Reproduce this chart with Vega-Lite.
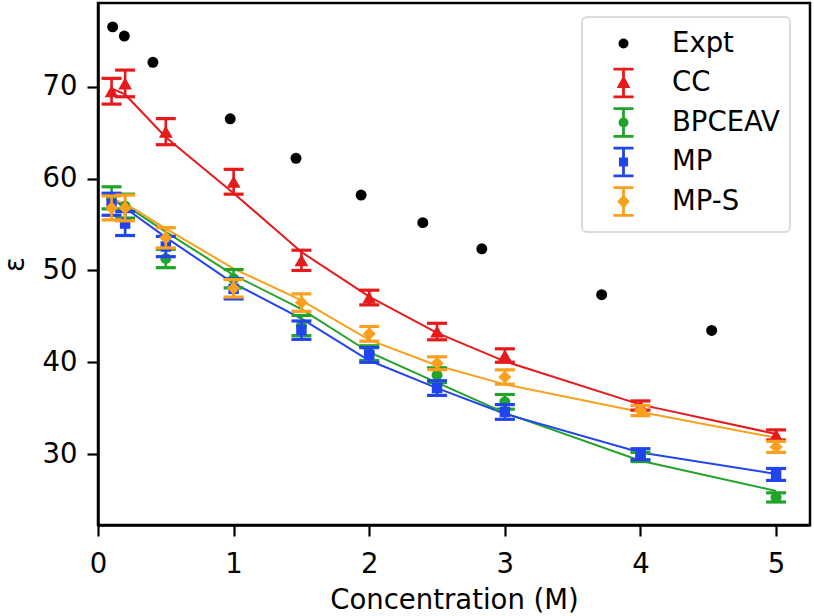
{
  "$schema": "https://vega.github.io/schema/vega-lite/v6.json",
  "width": 712,
  "height": 522,
  "autosize": {"type": "none"},
  "padding": {"left": 98, "top": 3, "right": 4, "bottom": 91},
  "background": "white",
  "config": {
    "font": "DejaVu Sans",
    "view": {"stroke": "black", "strokeWidth": 2.5},
    "axis": {
      "grid": false,
      "domainColor": "black",
      "domainWidth": 2.5,
      "tickColor": "black",
      "tickWidth": 2.2,
      "tickSize": 11,
      "labelFont": "DejaVu Sans",
      "labelFontSize": 27.5,
      "labelColor": "black",
      "labelFlush": false,
      "labelOverlap": false,
      "titleFont": "DejaVu Sans",
      "titleFontSize": 27.5,
      "titleFontWeight": "normal",
      "titleColor": "black"
    }
  },
  "data": {
    "values": [
      {"series": "Expt", "x": 0.108, "y": 76.5},
      {"series": "Expt", "x": 0.194, "y": 75.5},
      {"series": "Expt", "x": 0.405, "y": 72.65},
      {"series": "Expt", "x": 0.975, "y": 66.5},
      {"series": "Expt", "x": 1.46, "y": 62.2},
      {"series": "Expt", "x": 1.94, "y": 58.2},
      {"series": "Expt", "x": 2.395, "y": 55.2},
      {"series": "Expt", "x": 2.83, "y": 52.35},
      {"series": "Expt", "x": 3.714, "y": 47.36},
      {"series": "Expt", "x": 4.525, "y": 43.47},

      {"series": "CC", "x": 0.1, "y": 69.5, "err": 1.4, "fit": 69.8},
      {"series": "CC", "x": 0.2, "y": 70.35, "err": 1.45, "fit": 69.15},
      {"series": "CC", "x": 0.5, "y": 65.1, "err": 1.42, "fit": 64.5},
      {"series": "CC", "x": 1, "y": 59.65, "err": 1.35, "fit": 58.4},
      {"series": "CC", "x": 1.5, "y": 51.1, "err": 1.1, "fit": 52.0},
      {"series": "CC", "x": 2, "y": 47.05, "err": 0.8, "fit": 47.15},
      {"series": "CC", "x": 2.5, "y": 43.35, "err": 0.9, "fit": 43.2},
      {"series": "CC", "x": 3, "y": 40.74, "err": 0.73, "fit": 40.1},
      {"series": "CC", "x": 4, "y": 35.3, "err": 0.5, "fit": 35.4},
      {"series": "CC", "x": 5, "y": 32.1, "err": 0.55, "fit": 32.2},

      {"series": "BPCEAV", "x": 0.1, "y": 57.9, "err": 1.2, "fit": 57.8},
      {"series": "BPCEAV", "x": 0.2, "y": 57.0, "err": 1.3, "fit": 57.1},
      {"series": "BPCEAV", "x": 0.5, "y": 51.3, "err": 1.0, "fit": 54.2},
      {"series": "BPCEAV", "x": 1, "y": 49.1, "err": 1.0, "fit": 49.5},
      {"series": "BPCEAV", "x": 1.5, "y": 44.0, "err": 1.1, "fit": 45.8},
      {"series": "BPCEAV", "x": 2, "y": 41.0, "err": 0.8, "fit": 41.1},
      {"series": "BPCEAV", "x": 2.5, "y": 38.6, "err": 0.8, "fit": 37.8},
      {"series": "BPCEAV", "x": 3, "y": 35.7, "err": 0.8, "fit": 34.5},
      {"series": "BPCEAV", "x": 4, "y": 29.7, "err": 0.5, "fit": 29.3},
      {"series": "BPCEAV", "x": 5, "y": 25.3, "err": 0.5, "fit": 26.0},

      {"series": "MP", "x": 0.1, "y": 57.2, "err": 1.2, "fit": 57.9},
      {"series": "MP", "x": 0.2, "y": 55.1, "err": 1.3, "fit": 56.8},
      {"series": "MP", "x": 0.5, "y": 52.6, "err": 1.1, "fit": 53.6},
      {"series": "MP", "x": 1, "y": 48.0, "err": 1.1, "fit": 48.6},
      {"series": "MP", "x": 1.5, "y": 43.5, "err": 1.0, "fit": 44.75},
      {"series": "MP", "x": 2, "y": 40.8, "err": 0.8, "fit": 40.2},
      {"series": "MP", "x": 2.5, "y": 37.2, "err": 0.8, "fit": 37.2},
      {"series": "MP", "x": 3, "y": 34.6, "err": 0.8, "fit": 34.4},
      {"series": "MP", "x": 4, "y": 30.0, "err": 0.6, "fit": 30.2},
      {"series": "MP", "x": 5, "y": 27.8, "err": 0.65, "fit": 27.85},

      {"series": "MP-S", "x": 0.1, "y": 56.8, "err": 1.3, "fit": 57.7},
      {"series": "MP-S", "x": 0.2, "y": 56.8, "err": 1.4, "fit": 57.3},
      {"series": "MP-S", "x": 0.5, "y": 53.55, "err": 1.1, "fit": 54.55},
      {"series": "MP-S", "x": 1, "y": 48.05, "err": 0.95, "fit": 50.2},
      {"series": "MP-S", "x": 1.5, "y": 46.5, "err": 0.95, "fit": 46.75},
      {"series": "MP-S", "x": 2, "y": 43.1, "err": 0.8, "fit": 42.45},
      {"series": "MP-S", "x": 2.5, "y": 39.9, "err": 0.7, "fit": 39.65},
      {"series": "MP-S", "x": 3, "y": 38.4, "err": 0.78, "fit": 37.6},
      {"series": "MP-S", "x": 4, "y": 34.75, "err": 0.55, "fit": 34.6},
      {"series": "MP-S", "x": 5, "y": 30.8, "err": 0.6, "fit": 31.8}
    ]
  },
  "encoding": {
    "x": {
      "field": "x",
      "type": "quantitative",
      "scale": {"domain": [0, 5.25], "nice": false, "zero": false},
      "axis": {"values": [0, 1, 2, 3, 4, 5], "format": "d", "title": "Concentration (M)", "labelPadding": 14, "titlePadding": 9}
    }
  },
  "layer": [
    {
      "mark": {"type": "point", "filled": true, "opacity": 0},
      "encoding": {
        "y": {
          "field": "y",
          "type": "quantitative",
          "title": "ε",
          "scale": {"domain": [22.3, 79.1], "nice": false, "zero": false},
          "axis": {"values": [30, 40, 50, 60, 70], "title": "ε", "labelPadding": 10, "titlePadding": 13}
        },
        "shape": {
          "field": "series",
          "type": "nominal",
          "scale": {
            "domain": ["Expt", "CC", "BPCEAV", "MP", "MP-S"],
            "range": [
              "M0,-0.93L0,-0.93M0,0.93L0,0.93M-0.24,0A0.24,0.24,0,1,0,0.24,0A0.24,0.24,0,1,0,-0.24,0Z",
              "M-0.67,-0.93H0.67M0,-0.93V0.93M-0.67,0.93H0.67M0,-0.32L0.3,0.24L-0.3,0.24Z",
              "M-0.67,-0.93H0.67M0,-0.93V0.93M-0.67,0.93H0.67M-0.24,0A0.24,0.24,0,1,0,0.24,0A0.24,0.24,0,1,0,-0.24,0Z",
              "M-0.67,-0.93H0.67M0,-0.93V0.93M-0.67,0.93H0.67M-0.21,-0.21H0.21V0.21H-0.21Z",
              "M-0.67,-0.93H0.67M0,-0.93V0.93M-0.67,0.93H0.67M0,-0.33L0.29,0L0,0.33L-0.29,0Z"
            ]
          },
          "legend": {
            "orient": "none", "legendX": 484, "legendY": 14, "title": null,
            "symbolSize": 900, "symbolStrokeWidth": 2.8, "symbolOpacity": 1,
            "labelFont": "DejaVu Sans", "labelFontSize": 27.5, "labelColor": "black",
            "padding": 10, "rowPadding": -1.5, "symbolOffset": 15, "labelOffset": 32,
            "fillColor": "white", "strokeColor": "#d9dcde", "cornerRadius": 5,
            "encode": {
              "symbols": {"update": {"stroke": {"scale": "color", "field": "value"}, "strokeWidth": {"value": 2.8}}},
              "legend": {"update": {"strokeWidth": {"value": 2}}}
            }
          }
        },
        "color": {
          "field": "series",
          "type": "nominal",
          "scale": {"domain": ["Expt", "CC", "BPCEAV", "MP", "MP-S"], "range": ["black", "#e6191b", "#22a32a", "#2244ee", "#fa9f1e"]},
          "legend": {
            "orient": "none", "legendX": 484, "legendY": 14, "title": null,
            "symbolSize": 900, "symbolStrokeWidth": 2.8, "symbolOpacity": 1,
            "labelFont": "DejaVu Sans", "labelFontSize": 27.5, "labelColor": "black",
            "padding": 10, "rowPadding": -1.5, "symbolOffset": 15, "labelOffset": 32,
            "fillColor": "white", "strokeColor": "#d9dcde", "cornerRadius": 5,
            "encode": {
              "symbols": {"update": {"stroke": {"scale": "color", "field": "value"}, "strokeWidth": {"value": 2.8}}},
              "legend": {"update": {"strokeWidth": {"value": 2}}}
            }
          }
        }
      }
    },
    {
      "transform": [{"filter": "isValid(datum.fit)"}],
      "mark": {"type": "line", "strokeWidth": 2},
      "encoding": {
        "y": {"field": "fit", "type": "quantitative", "title": "ε"},
        "stroke": {
          "field": "series",
          "type": "nominal",
          "scale": {"domain": ["CC", "BPCEAV", "MP", "MP-S"], "range": ["#e6191b", "#22a32a", "#2244ee", "#fa9f1e"]},
          "legend": null
        }
      }
    },
    {
      "transform": [{"filter": "datum.series == 'Expt'"}],
      "mark": {"type": "point", "filled": true, "opacity": 1, "shape": "circle", "size": 120, "color": "black"},
      "encoding": {"y": {"field": "y", "type": "quantitative", "title": "ε"}}
    },
    {
      "transform": [{"filter": "datum.series == 'CC'"}],
      "mark": {"type": "errorbar", "color": "#e6191b", "size": 20, "ticks": {"opacity": 1, "thickness": 3.2}, "rule": {"opacity": 1, "strokeWidth": 2.6}},
      "encoding": {"y": {"field": "y", "type": "quantitative", "title": "ε"}, "yError": {"field": "err"}}
    },
    {
      "transform": [{"filter": "datum.series == 'CC'"}],
      "mark": {"type": "point", "filled": true, "opacity": 1, "shape": "triangle-up", "size": 190, "color": "#e6191b"},
      "encoding": {"y": {"field": "y", "type": "quantitative", "title": "ε"}}
    },
    {
      "transform": [{"filter": "datum.series == 'BPCEAV'"}],
      "mark": {"type": "errorbar", "color": "#22a32a", "size": 20, "ticks": {"opacity": 1, "thickness": 3.2}, "rule": {"opacity": 1, "strokeWidth": 2.6}},
      "encoding": {"y": {"field": "y", "type": "quantitative", "title": "ε"}, "yError": {"field": "err"}}
    },
    {
      "transform": [{"filter": "datum.series == 'BPCEAV'"}],
      "mark": {"type": "point", "filled": true, "opacity": 1, "shape": "circle", "size": 120, "color": "#22a32a"},
      "encoding": {"y": {"field": "y", "type": "quantitative", "title": "ε"}}
    },
    {
      "transform": [{"filter": "datum.series == 'MP'"}],
      "mark": {"type": "errorbar", "color": "#2244ee", "size": 20, "ticks": {"opacity": 1, "thickness": 3.2}, "rule": {"opacity": 1, "strokeWidth": 2.6}},
      "encoding": {"y": {"field": "y", "type": "quantitative", "title": "ε"}, "yError": {"field": "err"}}
    },
    {
      "transform": [{"filter": "datum.series == 'MP'"}],
      "mark": {"type": "point", "filled": true, "opacity": 1, "shape": "square", "size": 110, "color": "#2244ee"},
      "encoding": {"y": {"field": "y", "type": "quantitative", "title": "ε"}}
    },
    {
      "transform": [{"filter": "datum.series == 'MP-S'"}],
      "mark": {"type": "errorbar", "color": "#fa9f1e", "size": 20, "ticks": {"opacity": 1, "thickness": 3.2}, "rule": {"opacity": 1, "strokeWidth": 2.6}},
      "encoding": {"y": {"field": "y", "type": "quantitative", "title": "ε"}, "yError": {"field": "err"}}
    },
    {
      "transform": [{"filter": "datum.series == 'MP-S'"}],
      "mark": {"type": "point", "filled": true, "opacity": 1, "shape": "diamond", "size": 170, "color": "#fa9f1e"},
      "encoding": {"y": {"field": "y", "type": "quantitative", "title": "ε"}}
    }
  ]
}
